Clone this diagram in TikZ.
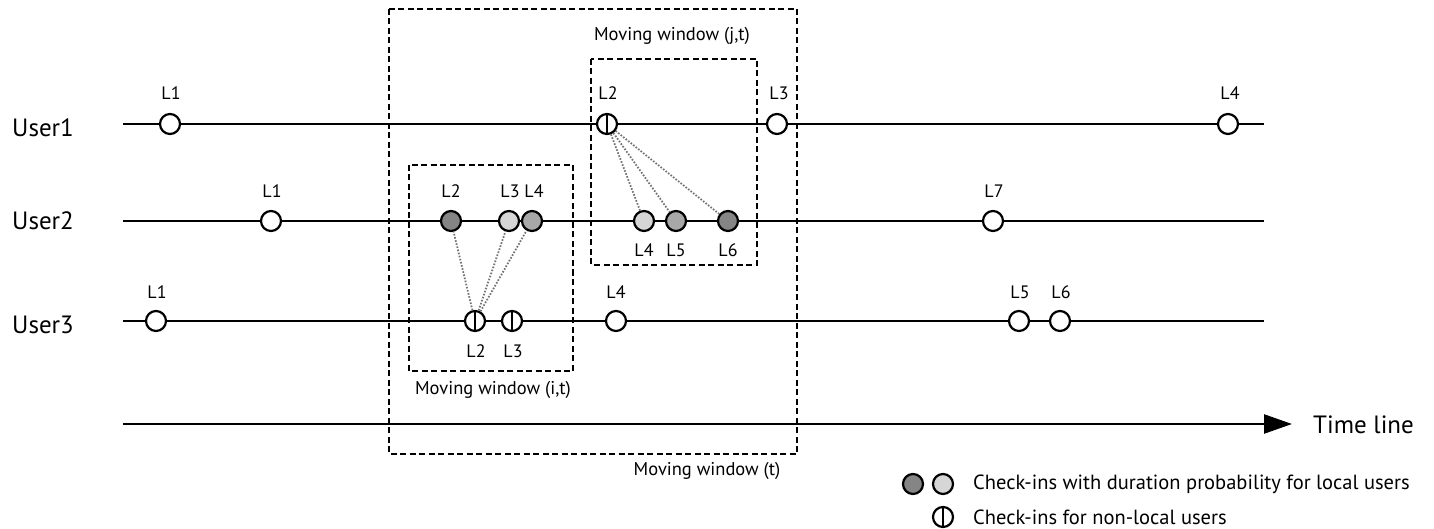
\documentclass[tikz,border=0pt]{standalone}
\usepackage{fontspec}
\setmainfont{PT Sans}
\usetikzlibrary{arrows.meta}
\definecolor{cdark}{gray}{0.52}
\definecolor{cmed}{gray}{0.66}
\definecolor{clight}{gray}{0.84}
\tikzset{
  chk/.style={circle,draw,line width=2.2pt,minimum size=20pt,inner sep=0pt,fill=white},
  dk/.style={chk,fill=cdark},
  md/.style={chk,fill=cmed},
  lt/.style={chk,fill=clight},
  nl/.style={chk,path picture={\draw[line width=2.2pt] (path picture bounding box.north) -- (path picture bounding box.south);}},
  tl/.style={line width=2.4pt},
  win/.style={draw,line width=1.5pt,dash pattern=on 6pt off 3.5pt},
  lab/.style={font=\fontsize{18}{18}\selectfont,inner sep=0pt},
  usr/.style={font=\fontsize{25}{25}\selectfont,inner sep=0pt,anchor=west},
  wl/.style={font=\fontsize{18.5}{18.5}\selectfont,inner sep=0pt},
  leg/.style={font=\fontsize{20.5}{20.5}\selectfont,inner sep=0pt,anchor=west},
  dot/.style={dash pattern=on 1.6pt off 1.6pt,line width=1.8pt,draw=black!55}
}
\begin{document}
\begin{tikzpicture}[x=1pt,y=-1pt]
\useasboundingbox (0,0) rectangle (1434,529);
% windows
\draw[win] (389,9) rectangle (797,454);
\draw[win] (591,59) rectangle (757,265);
\draw[win] (409,165) rectangle (573,371);
\node[wl] (wt) at (707,471) {Moving window (t)};
\node[wl] (wjt) at (672,36) {Moving window (j,t)};
\node[wl] (wit) at (493,390) {Moving window (i,t)};
% user labels
\node[usr] (u1) at (12,128) {User1};
\node[usr] (u2) at (12,221) {User2};
\node[usr] (u3) at (12,325) {User3};
% lines
\coordinate (a1) at (123,124); \coordinate (b1) at (1264,124);
\coordinate (a2) at (123,221); \coordinate (b2) at (1264,221);
\coordinate (a3) at (123,321); \coordinate (b3) at (1264,321);
\coordinate (a4) at (123,424); \coordinate (b4) at (1292,424);
\draw[tl] (a1) -- (b1);
\draw[tl] (a2) -- (b2);
\draw[tl] (a3) -- (b3);
\draw[tl,-{Triangle[length=28pt,width=19pt]}] (a4) -- (b4);
\node[font=\fontsize{25}{25}\selectfont,anchor=west,inner sep=0pt] (tline) at (1313,425) {Time line};
% User1
\node[chk] (u1l1) at (170,124) {};
\node[nl] (u1l2) at (607,124) {};
\node[chk] (u1l3) at (777,124) {};
\node[chk] (u1l4) at (1228,124) {};
\node[lab] at (171,93) {L1};
\node[lab] at (608,93) {L2};
\node[lab] at (779,93) {L3};
\node[lab] at (1230,93) {L4};
% User2
\node[chk] (u2l1) at (271,221) {};
\node[dk] (u2l2) at (451,221) {};
\node[lt] (u2l3) at (509,221) {};
\node[md] (u2l4) at (532,221) {};
\node[lt] (u2l4b) at (644,221) {};
\node[md] (u2l5) at (676,221) {};
\node[dk] (u2l6) at (728,221) {};
\node[chk] (u2l7) at (993,221) {};
\node[lab] at (272,191) {L1};
\node[lab] at (451,191) {L2};
\node[lab] at (510,191) {L3};
\node[lab] at (534,191) {L4};
\node[lab] at (644,250) {L4};
\node[lab] at (676,250) {L5};
\node[lab] at (728,250) {L6};
\node[lab] at (994,191) {L7};
% User3
\node[chk] (u3l1) at (156,321) {};
\node[nl] (u3l2) at (475,321) {};
\node[nl] (u3l3) at (512,321) {};
\node[chk] (u3l4) at (616,321) {};
\node[chk] (u3l5) at (1019,321) {};
\node[chk] (u3l6) at (1060,321) {};
\node[lab] at (157,292) {L1};
\node[lab] at (476,351) {L2};
\node[lab] at (513,351) {L3};
\node[lab] at (616,292) {L4};
\node[lab] at (1020,292) {L5};
\node[lab] at (1061,292) {L6};
% dotted links
\draw[dot] (u1l2) -- (u2l4b);
\draw[dot] (u1l2) -- (u2l5);
\draw[dot] (u1l2) -- (u2l6);
\draw[dot] (u3l2) -- (u2l2);
\draw[dot] (u3l2) -- (u2l3);
\draw[dot] (u3l2) -- (u2l4);
% legend
\node[dk] (lg1) at (913,484) {};
\node[lt] (lg2) at (943,484) {};
\node[nl] (lg3) at (943,517) {};
\node[leg] (lt1) at (973,484) {Check-ins with duration probability for local users};
\node[leg] (lt2) at (973,517) {Check-ins for non-local users};
\end{tikzpicture}
\end{document}
